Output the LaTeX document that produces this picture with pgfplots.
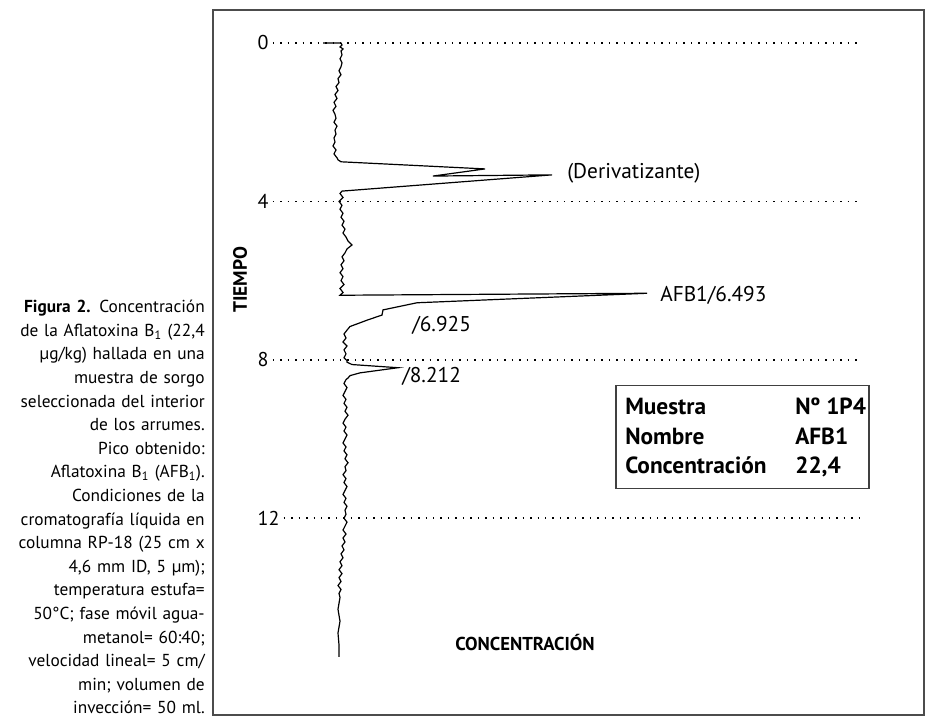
\documentclass[border=0pt]{standalone}
\usepackage{fontspec}
\setmainfont{PT Sans}
\usepackage{pgfplots}
\pgfplotsset{compat=1.18}
\begin{document}
\begin{tikzpicture}
\path[use as bounding box] (0,0) rectangle (693.75pt,-540pt);
% caption
\node[anchor=base east, inner sep=0pt, text width=160pt, align=right,
      font=\fontsize{13pt}{17.7pt}\selectfont] at (153.75pt,-234.5pt)
{\textbf{Figura 2.} Concentración\\
de la Aflatoxina B\textsubscript{1} (22,4\\
µg/kg) hallada en una\\
muestra de sorgo\\
seleccionada del interior\\
de los arrumes.\\
Pico obtenido:\\
Aflatoxina B\textsubscript{1} (AFB\textsubscript{1}).\\
Condiciones de la\\
cromatografía líquida en\\
columna RP-18 (25 cm x\\
4,6 mm ID, 5 µm);\\
temperatura estufa=\\
50°C; fase móvil agua-\\
metanol= 60:40;\\
velocidad lineal= 5 cm/\\
min; volumen de\\
invección= 50 ml.};
\begin{axis}[
  at={(159.75pt,-7.5pt)}, anchor=north west,
  scale only axis, width=533.25pt, height=528.75pt,
  xmin=-127, xmax=584, ymin=-0.833, ymax=16.97,
  y dir=reverse,
  xtick=\empty, ytick=\empty,
  axis line style={draw=black!70, line width=1.1pt},
  clip=false,
]
% dotted time grid lines with labels
\tikzset{dotl/.style={line width=1.1pt, dash pattern=on 1.1pt off 4.5pt}}
\foreach \t/\lab in {0/0,4/4,8/8,12/12}{
  \edef\tmp{\noexpand\node[anchor=west, inner sep=1pt, font=\noexpand\fontsize{15pt}{17pt}\noexpand\selectfont] (L\t) at (axis cs:-84,\t) {\lab};
  \noexpand\draw[dotl] ([xshift=2pt]L\t.east) -- (axis cs:522,\t);}
  \tmp
}
% chromatogram trace
\addplot[black, line width=0.9pt, mark=none] coordinates {
(-17,0) (1,0) (2,0.05) (0,0.1) (3,0.15) (1,0.2) (2,0.3) (0,0.4) (2,0.5) (1,0.6)
(-1,0.7) (1,0.8) (-2,0.9) (-1,1.0) (-4,1.1) (-2,1.2) (-5,1.3) (-3,1.4) (-6,1.5)
(-4,1.6) (-7,1.7) (-5,1.8) (-4,1.9) (-6,2.0) (-3,2.1) (-5,2.2) (-4,2.3) (-6,2.4)
(-5,2.5) (-7,2.6) (-4,2.7) (-6,2.8) (-3,2.9) (-2,2.95) (1,3.0)
(145,3.18) (93,3.36) (212,3.33) (2,3.74)
(0,3.8) (3,3.9) (-1,4.0) (2,4.1) (0,4.2) (3,4.3) (1,4.4) (4,4.5) (2,4.6) (5,4.7)
(3,4.8) (6,4.9) (8,5.0) (12,5.1) (7,5.2) (5,5.3) (2,5.4) (4,5.5) (1,5.6) (3,5.7)
(0,5.8) (3,5.9) (1,6.0) (4,6.1) (0,6.2) (3,6.3) (0,6.37)
(307,6.32) (77,6.56) (43,6.74) (42,6.87) (27,7.0) (10,7.16) (7,7.25)
(4,7.35) (6,7.45) (3,7.55) (7,7.65) (4,7.75) (6,7.85) (4,7.95) (7,8.02) (7,8.06)
(12,8.12) (58,8.2) (20,8.33) (10,8.4) (8,8.46)
(6,8.5) (4,8.6) (7,8.7) (5,8.8) (3,8.9) (6,9.0) (4,9.1) (7,9.2) (5,9.3) (8,9.4)
(5,9.5) (3,9.6) (6,9.7) (4,9.8) (7,9.9) (5,10.0) (3,10.1) (6,10.2) (4,10.3) (7,10.4)
(5,10.5) (8,10.6) (5,10.7) (6,10.8) (3,10.9) (6,11.0) (4,11.1) (7,11.2) (5,11.3)
(3,11.4) (6,11.5) (4,11.6) (7,11.7) (5,11.8) (6,11.9) (4,12.0) (7,12.1) (5,12.2)
(3,12.3) (6,12.4) (3,12.5) (5,12.6) (2,12.7) (4,12.8) (1,12.9) (3,13.0) (0,13.1)
(2,13.2) (-1,13.3) (2,13.4) (-1,13.5) (1,13.6) (-2,13.7) (1,13.8) (-1,13.9)
(0,14.0) (-2,14.3) (0,14.6) (-2,14.9) (-1,15.2) (-1,15.5)
};
% peak labels
\tikzset{plab/.style={anchor=west, inner sep=0pt, font=\fontsize{16pt}{18pt}\selectfont}}
\node[plab] at (axis cs:227,3.28) {(Derivatizante)};
\node[plab] at (axis cs:320,6.37) {AFB1/6.493};
\node[plab] at (axis cs:72,7.12) {/6.925};
\node[plab] at (axis cs:62,8.43) {/8.212};
% axis titles
\node[rotate=90, font=\bfseries\fontsize{14.5pt}{16pt}\selectfont] at (axis cs:-100,5.98) {TIEMPO};
\node[font=\bfseries\fontsize{14pt}{16pt}\selectfont] at (axis cs:185,15.13) {CONCENTRACIÓN};
% info box
\draw[black!75, line width=0.9pt] (axis cs:276,8.64) rectangle (axis cs:529,11.24);
\begin{scope}[every node/.style={anchor=base west, inner sep=0pt, font=\bfseries\fontsize{17.5pt}{19pt}\selectfont}]
\node at (axis cs:285,9.39) {Muestra};
\node at (axis cs:455,9.39) {Nº 1P4};
\node at (axis cs:285,10.15) {Nombre};
\node at (axis cs:455,10.15) {AFB1};
\node at (axis cs:285,10.86) {Concentración};
\node at (axis cs:455,10.86) {22,4};
\end{scope}
\end{axis}
\end{tikzpicture}
\end{document}
